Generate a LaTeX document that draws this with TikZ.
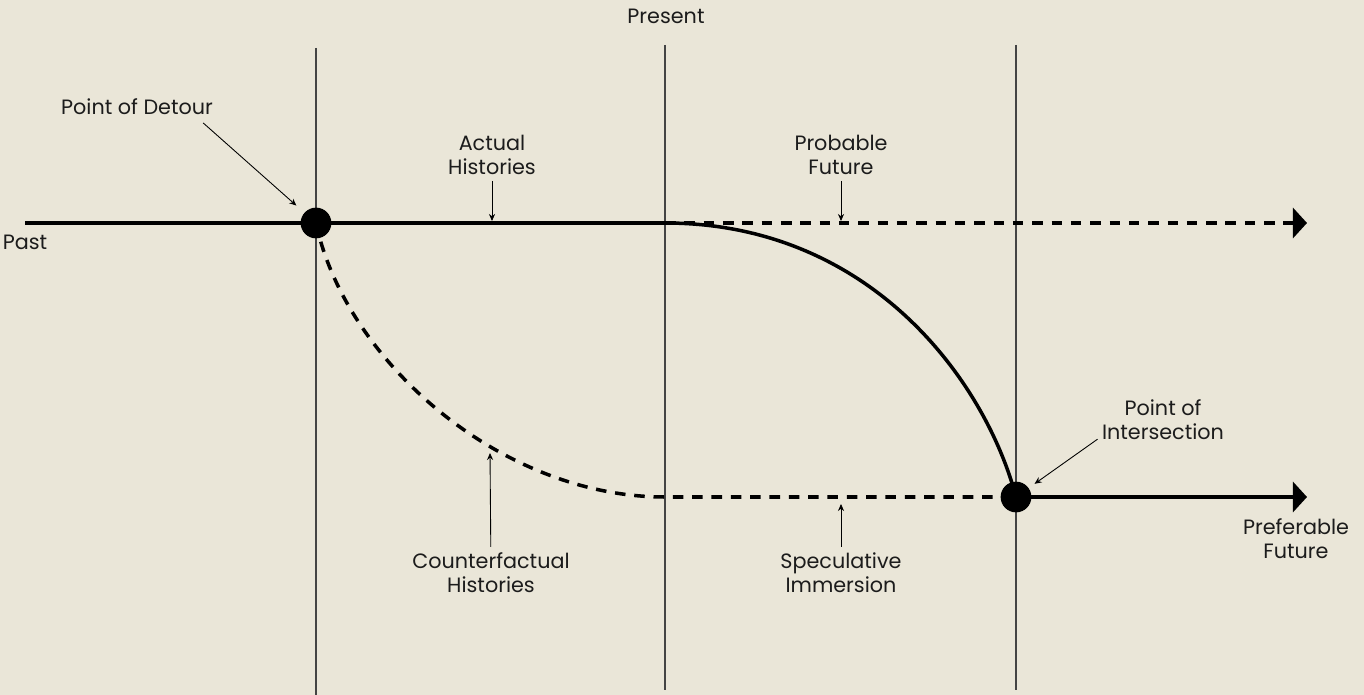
\documentclass[tikz,border=0pt]{standalone}
\usepackage{fontspec}
\setmainfont{Poppins}
\usetikzlibrary{positioning,arrows.meta}
\definecolor{PaperBg}{HTML}{EAE6D8}
\definecolor{InkDark}{HTML}{1C1C1C}
\definecolor{RuleGray}{HTML}{444444}

\begin{document}
\begin{tikzpicture}[
  x=0.02cm,y=-0.02cm,
  every node/.style={font=\fontsize{11.8}{13.6}\selectfont,align=center,text=InkDark},
  era/.style={draw=RuleGray,line width=0.75pt},
  main/.style={line width=2pt},
  guess/.style={dash pattern=on 6pt off 5pt},
  tip/.style={-{Triangle[length=8pt,width=17pt]}},
  ptr/.style={-{Stealth[length=4pt,width=3.5pt]},line width=0.5pt},
  dot/.style={circle,fill=black,inner sep=0pt,minimum size=17.5pt}
]
  \fill[PaperBg] (0,0) rectangle (1364,695);
  \useasboundingbox (0,0) rectangle (1364,695);

  % points on the time line
  \coordinate (pastend) at (25,223);
  \coordinate (nowtop) at (665,223);
  \coordinate (nowlow) at (665,497);
  \coordinate (head1) at (1307,223);
  \coordinate (head2) at (1307,497);
  \coordinate (detourpt) at (316,223);
  \coordinate (interpt) at (1016,497);

  % eras
  \draw[era] (detourpt |- 0,48) -- (detourpt |- 0,695);
  \draw[era] (nowtop |- 0,45) -- (nowtop |- 0,690);
  \draw[era] (interpt |- 0,45) -- (interpt |- 0,690);

  % paths
  \draw[main] (pastend) -- (nowtop);
  \draw[main,guess,tip] (nowtop) -- (head1);
  \draw[main] (nowtop) .. controls (870,223) and (985,380) .. (interpt);
  \draw[main,guess] (detourpt) .. controls (345,360) and (500,497) .. (nowlow) -- (interpt);
  \draw[main,tip] (interpt) -- (head2);

  \node[dot] (detour) at (detourpt) {};
  \node[dot] (inter) at (interpt) {};

  % labels
  \node (past) at (25,242) {Past};
  \node (present) at (666,16) {Present};
  \node (detourlbl) at (137,107) {Point of Detour};
  \node (actual) at (492,155) {Actual\\Histories};
  \node (probable) at (841,155) {Probable\\Future};
  \node (interlbl) at (1163,420) {Point of\\Intersection};
  \node (prefer) at (1296,539) {Preferable\\Future};
  \node (counter) at (491,573) {Counterfactual\\Histories};
  \node (spec) at (841,573) {Speculative\\Immersion};

  \coordinate (actualhit) at (492,221);
  \coordinate (probhit) at (841,221);
  \coordinate (counterhit) at (490,453);
  \coordinate (spechit) at (841,504);

  \draw[ptr,shorten >=6pt] ([xshift=-9pt,yshift=-1pt]detourlbl.south east) -- (detour);
  \draw[ptr] (actual) -- (actualhit);
  \draw[ptr] (probable) -- (probhit);
  \draw[ptr,shorten >=4pt] ([xshift=1pt,yshift=4pt]interlbl.south west) -- (inter);
  \draw[ptr] (counter) -- (counterhit);
  \draw[ptr] (spec) -- (spechit);
\end{tikzpicture}
\end{document}
